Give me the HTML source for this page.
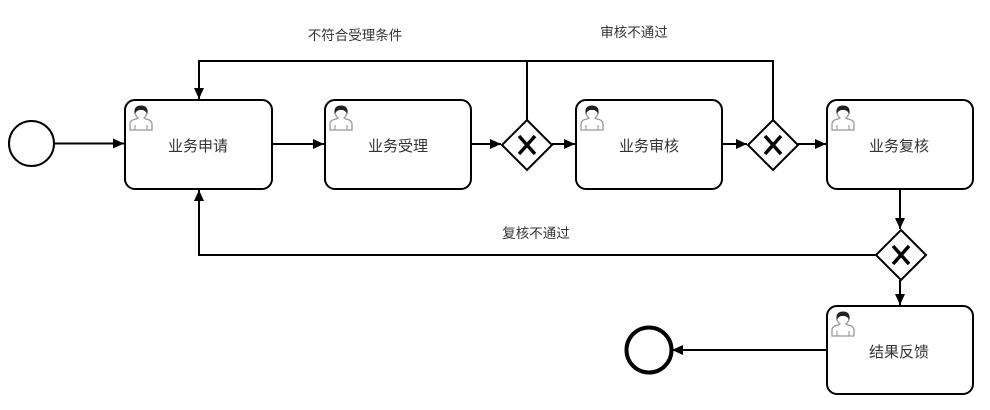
<!DOCTYPE html>
<html><head><meta charset="utf-8">
<style>
html,body{margin:0;padding:0;background:#fff;}
svg{display:block;}
text{font-family:"Liberation Sans","Noto Sans CJK SC",sans-serif;fill:#333;}
</style></head>
<body>
<svg width="990" height="410" viewBox="0 0 990 410" xmlns="http://www.w3.org/2000/svg">
<defs>
<marker id="ah" viewBox="0 0 11 10" refX="11" refY="5" markerWidth="11" markerHeight="10" markerUnits="userSpaceOnUse" orient="auto">
<path d="M0,0 L11,5 L0,10 Z" fill="#000"/>
</marker>
<g id="user">
<path d="M1,25 L1,19 Q1,15 7,14 L9,13 Q6,10.5 6,7 Q6,1.5 12,1.5 Q18,1.5 18,7 Q18,10.5 15,13 L17,14 Q23,15 23,19 L23,25 Z" fill="#fff" stroke="#999" stroke-width="1.3"/>
<path d="M6,7.5 Q5.5,1 12,1 Q18.5,1 18,7.5 Q16,4.2 12,4.5 Q8,4.2 6,7.5 Z" fill="#222" stroke="#222" stroke-width="1"/>
<path d="M6,25 L6,20 M18,25 L18,20" stroke="#999" stroke-width="1.1"/>
</g>
</defs>

<g fill="none" stroke="#000" stroke-width="2">
<circle cx="31.5" cy="143.5" r="22.5"/>
<circle cx="649" cy="350" r="22.5" stroke-width="4"/>

<rect x="125" y="100" width="147" height="89" rx="10"/>
<rect x="325" y="100" width="146" height="89" rx="10"/>
<rect x="576" y="100" width="146" height="89" rx="10"/>
<rect x="827" y="100" width="146" height="89" rx="10"/>
<rect x="827" y="306" width="146" height="88" rx="10"/>

<path d="M527,120 L552,145 L527,170 L502,145 Z"/>
<path d="M773,120 L798,145 L773,170 L748,145 Z"/>
<path d="M901,230 L926,255 L901,280 L876,255 Z"/>

<path d="M54,143.5 L124,143.5" marker-end="url(#ah)"/>
<path d="M272,144 L324,144" marker-end="url(#ah)"/>
<path d="M471,144 L501,144" marker-end="url(#ah)"/>
<path d="M552,144 L575,144" marker-end="url(#ah)"/>
<path d="M722,144 L747,144" marker-end="url(#ah)"/>
<path d="M798,144 L826,144" marker-end="url(#ah)"/>
<path d="M527,120 L527,61 L199,61 L199,99" marker-end="url(#ah)"/>
<path d="M773,120 L773,61 L527,61"/>
<path d="M900,189 L900,229" marker-end="url(#ah)"/>
<path d="M876,255 L199,255 L199,190" marker-end="url(#ah)"/>
<path d="M900,280 L900,305" marker-end="url(#ah)"/>
<path d="M826,350 L672,350" marker-end="url(#ah)"/>
</g>

<g stroke="#000" stroke-width="3.5" stroke-linecap="butt">
<path d="M519,136 L535,154 M535,136 L519,154"/>
<path d="M765,136 L781,154 M781,136 L765,154"/>
<path d="M893,246 L909,264 M909,246 L893,264"/>
</g>

<use href="#user" x="129" y="105"/>
<use href="#user" x="329" y="105"/>
<use href="#user" x="580" y="105"/>
<use href="#user" x="831" y="105"/>
<use href="#user" x="831" y="311"/>

<g font-size="15" text-anchor="middle">
<text x="198" y="151">业务申请</text>
<text x="398" y="151">业务受理</text>
<text x="649" y="151">业务审核</text>
<text x="899" y="151">业务复核</text>
<text x="899" y="357">结果反馈</text>
</g>

<g font-size="13.5" text-anchor="middle">
<text x="355" y="40">不符合受理条件</text>
<text x="634" y="37">审核不通过</text>
<text x="536" y="238">复核不通过</text>
</g>
</svg>
</body></html>
